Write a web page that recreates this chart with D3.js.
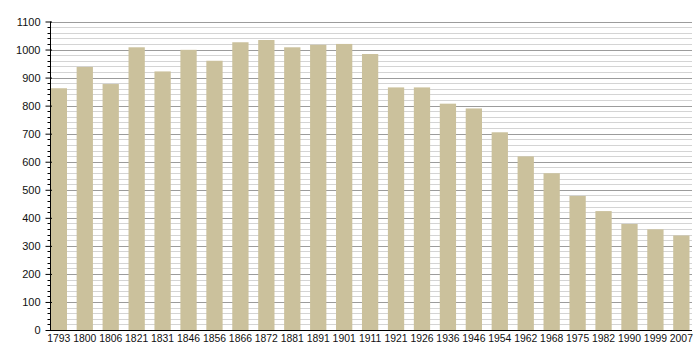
<!DOCTYPE html>
<html>
<head>
<meta charset="utf-8">
<script src="https://cdn.jsdelivr.net/npm/d3@7.9.0/dist/d3.min.js"></script>
<style>
  html, body { margin: 0; padding: 0; background: #fff; }
  svg text { font-family: "Liberation Sans", Arial, sans-serif; fill: #111; }
</style>
</head>
<body>
<svg id="chart" width="700" height="360"></svg>
<script>
// census years and population
const years = ['1793', '1800', '1806', '1821', '1831', '1846', '1856', '1866', '1872', '1881',
  '1891', '1901', '1911', '1921', '1926', '1936', '1946', '1954', '1962', '1968',
  '1975', '1982', '1990', '1999', '2007'];
const population = [862, 938, 877, 1008, 922, 999, 960, 1026, 1034, 1008,
  1017, 1020, 984, 865, 865, 807, 790, 705, 619, 559,
  478, 424, 378, 359, 337];
const yTicks = [0, 100, 200, 300, 400, 500, 600, 700, 800, 900, 1000, 1100];

const svg = d3.select('#chart');

const plotLeft = 50.5, plotRight = 692, plotTop = 21.5, plotBottom = 330;

const x = d3.scaleBand()
  .domain(years)
  .range([50.7, 689.5])
  .paddingInner(0.372)
  .paddingOuter(0);

const y = d3.scaleLinear().domain([0, 1100]).range([plotBottom, plotTop]);

// minor gridlines every 20
const minor = d3.range(0, 1101, 20).filter(v => v % 100 !== 0);
svg.append('g')
  .selectAll('line')
  .data(minor)
  .join('line')
  .attr('x1', plotLeft).attr('x2', plotRight)
  .attr('y1', d => Math.round(y(d)) + 0.5).attr('y2', d => Math.round(y(d)) + 0.5)
  .attr('stroke', '#d4d4d4').attr('stroke-width', 1);

// major gridlines every 100
svg.append('g')
  .selectAll('line')
  .data(yTicks.filter(v => v > 0))
  .join('line')
  .attr('x1', plotLeft).attr('x2', plotRight)
  .attr('y1', d => Math.round(y(d)) + 0.5).attr('y2', d => Math.round(y(d)) + 0.5)
  .attr('stroke', '#9c9c9c').attr('stroke-width', 1);

// bars
svg.append('g')
  .selectAll('rect')
  .data(years)
  .join('rect')
  .attr('x', d => x(d))
  .attr('width', x.bandwidth())
  .attr('y', (d, i) => y(population[i]))
  .attr('height', (d, i) => y(0) - y(population[i]))
  .attr('fill', '#cbc19c');

// y axis with minor ticks
const yAxis = d3.axisLeft(y).tickValues(yTicks).tickSize(5).tickPadding(5).tickFormat(d3.format('d'));
const ag = svg.append('g').attr('transform', `translate(${plotLeft},0)`).call(yAxis);
ag.select('.domain').attr('d', `M0,${plotTop}V${plotBottom}`).attr('stroke', '#000');
ag.selectAll('.tick line').attr('stroke', '#000').attr('x2', -5).attr('x1', 1.5);
ag.selectAll('.tick text').attr('font-size', 11).attr('fill', '#111').style('font-family', '"Liberation Sans", Arial, sans-serif');
ag.append('g')
  .selectAll('line')
  .data(minor)
  .join('line')
  .attr('x1', -3).attr('x2', 0)
  .attr('y1', d => Math.round(y(d)) + 0.5).attr('y2', d => Math.round(y(d)) + 0.5)
  .attr('stroke', '#000');

// x baseline and labels
svg.append('line')
  .attr('x1', plotLeft).attr('x2', plotRight)
  .attr('y1', plotBottom + 0.5).attr('y2', plotBottom + 0.5)
  .attr('stroke', '#000');

const xAxis = d3.axisBottom(x).tickSize(0).tickPadding(5);
const xg = svg.append('g').attr('transform', `translate(0,${plotBottom})`).call(xAxis);
xg.select('.domain').remove();
xg.selectAll('.tick text').attr('font-size', 10.4).attr('fill', '#111').style('font-family', '"Liberation Sans", Arial, sans-serif');
</script>
</body>
</html>
